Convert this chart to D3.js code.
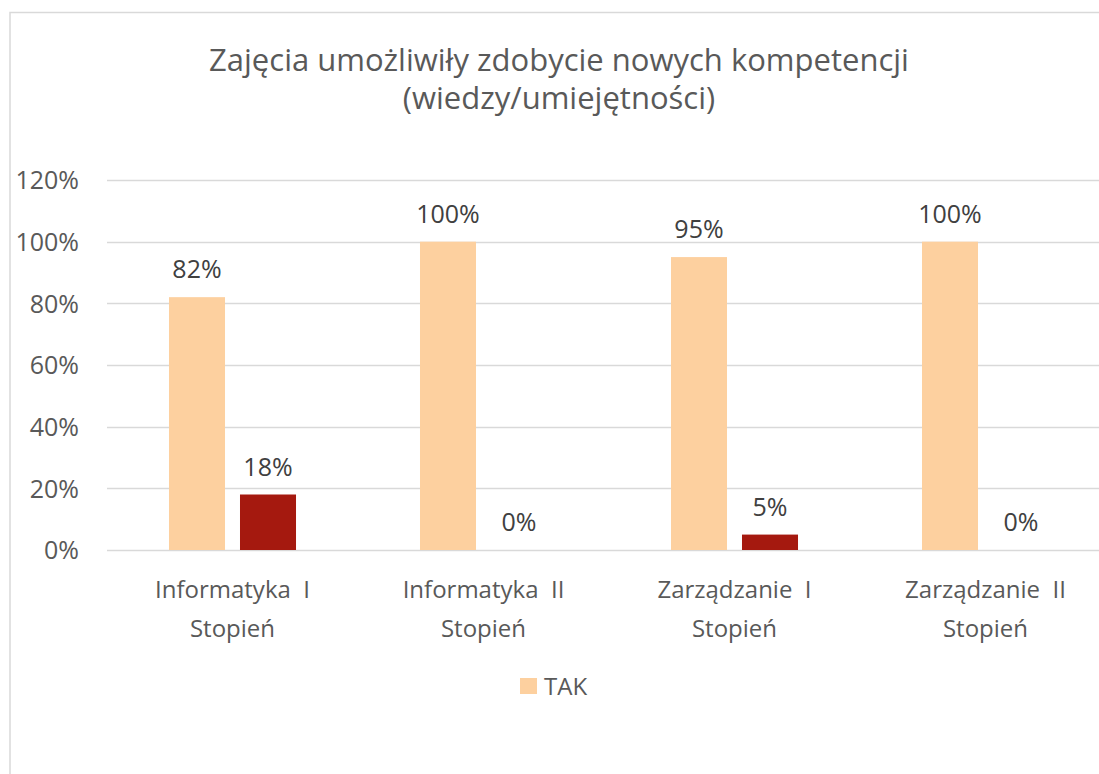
<!DOCTYPE html>
<html><head><meta charset="utf-8">
<script src="https://cdn.jsdelivr.net/npm/d3@7"></script>
<style>body{margin:0;background:#fff}svg{display:block}</style>
</head><body>
<script>
const categories = [["Informatyka  I","Stopień"],["Informatyka  II","Stopień"],["Zarządzanie  I","Stopień"],["Zarządzanie  II","Stopień"]];
const seriesNames = ["TAK","NIE"];
const takValues = [0.82, 1.00, 0.95, 1.00];
const nieValues = [0.18, 0.00, 0.05, 0.00];
const yTicks = [0, 0.2, 0.4, 0.6, 0.8, 1.0, 1.2];
const colors = {TAK:"#FDD09F", NIE:"#A5190F"};
const titleLines = ["Zajęcia umożliwiły zdobycie nowych kompetencji","(wiedzy/umiejętności)"];

const W=1099,H=774;
const svg=d3.select("body").append("svg").attr("width",W).attr("height",H);
const font="'Open Sans', 'Noto Sans', sans-serif";

// chart border
svg.append("rect").attr("x",10).attr("y",12.5).attr("width",W+20).attr("height",H+20)
  .attr("fill","#fff").attr("stroke","#d9d9d9").attr("stroke-width",1.5);

// title
svg.append("g").selectAll("text").data(titleLines).join("text")
  .attr("x",559).attr("y",(d,i)=>71+i*38).attr("text-anchor","middle")
  .attr("font-family",font).attr("font-size",31).attr("fill","#595959")
  .text(d=>d);

const y=d3.scaleLinear().domain([0,1.2]).range([550,180]);
const x0=d3.scaleBand().domain(categories.map(d=>d.join(" "))).range([107,1111]).padding(0);
const x1=d3.scaleBand().domain(seriesNames).range([0,x0.bandwidth()]).paddingInner(0.211).paddingOuter(0.873);

// gridlines
svg.append("g").selectAll("line").data(yTicks).join("line")
  .attr("x1",107).attr("x2",1111).attr("y1",d=>Math.round(y(d))+0.5).attr("y2",d=>Math.round(y(d))+0.5)
  .attr("stroke","#d9d9d9").attr("stroke-width",1.5);

// y axis labels
const yAxis=d3.axisLeft(y).tickValues(yTicks).tickFormat(d3.format(".0%")).tickSize(0).tickPadding(0);
const gy=svg.append("g").attr("transform","translate(79,0)").call(yAxis);
gy.select(".domain").remove();
gy.selectAll("text").attr("font-family",font).attr("font-size",25).attr("fill","#595959").attr("dy","0.35em");

const data=categories.map((c,i)=>({cat:c.join(" "),vals:[{s:"TAK",v:takValues[i]},{s:"NIE",v:nieValues[i]}]}));
const groups=svg.append("g").selectAll("g").data(data).join("g").attr("transform",d=>`translate(${x0(d.cat)},0)`);
groups.selectAll("rect").data(d=>d.vals).join("rect")
  .attr("x",d=>x1(d.s)).attr("width",x1.bandwidth())
  .attr("y",d=>y(d.v)).attr("height",d=>y(0)-y(d.v)).attr("fill",d=>colors[d.s]);
groups.selectAll("text").data(d=>d.vals).join("text")
  .attr("x",d=>x1(d.s)+x1.bandwidth()/2).attr("y",d=>y(d.v)-19).attr("text-anchor","middle")
  .attr("font-family",font).attr("font-size",25).attr("fill","#404040")
  .text(d=>d3.format(".0%")(d.v));

// x axis labels
const xl=svg.append("g").selectAll("text").data(categories).join("text")
  .attr("text-anchor","middle").attr("font-family",font).attr("font-size",24).attr("fill","#595959")
  .attr("x",d=>x0(d.join(" "))+x0.bandwidth()/2).attr("y",598);
xl.selectAll("tspan").data(d=>d).join("tspan")
  .attr("x",function(){return this.parentNode.getAttribute("x");}).attr("dy",(d,i)=>i?39:0)
  .style("white-space","pre").text(d=>d);

// legend
const lg=svg.append("g").attr("transform","translate(520,678)");
lg.append("rect").attr("width",17).attr("height",16).attr("fill",colors.TAK);
lg.append("text").attr("x",24).attr("y",17).attr("font-family",font).attr("font-size",24).attr("fill","#595959").text("TAK");
</script>
</body></html>
